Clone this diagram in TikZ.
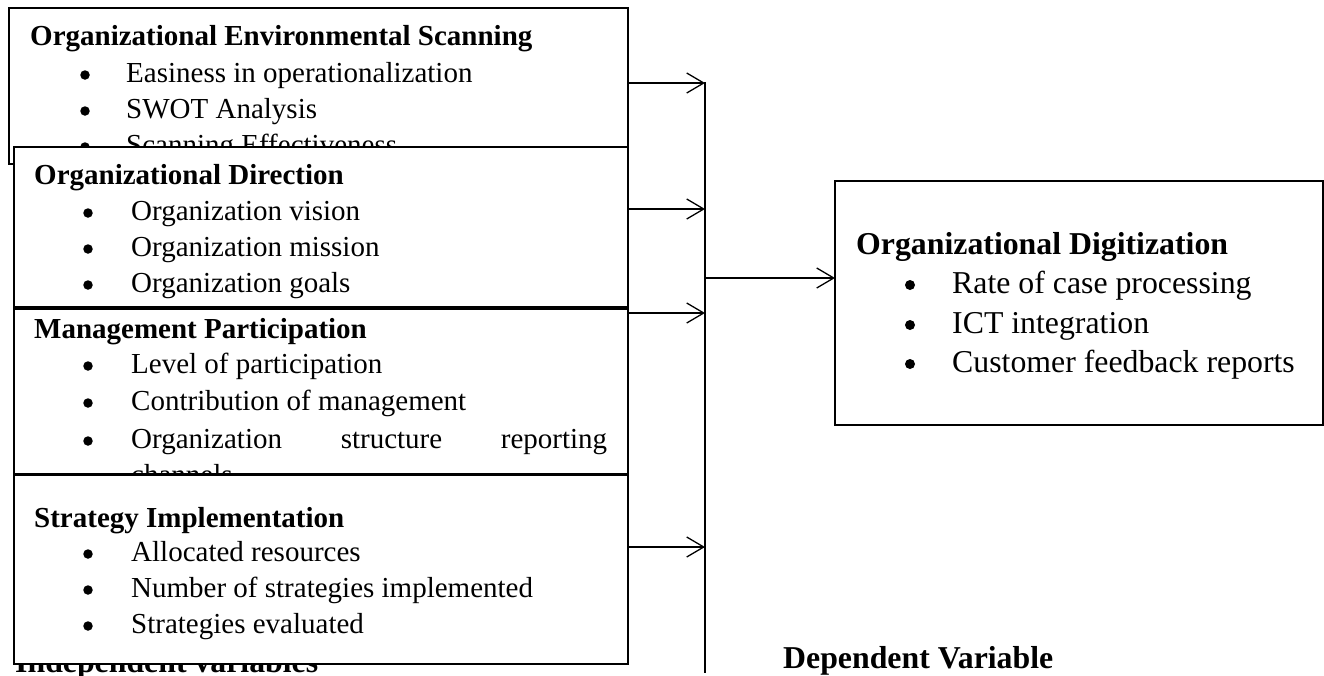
\documentclass[tikz,border=0pt]{standalone}
\usepackage{fontspec}
\setmainfont{Liberation Serif}
\usetikzlibrary{arrows.meta}
\newcommand{\lfont}{\fontsize{29}{35}\selectfont}
\newcommand{\rfont}{\fontsize{31.8}{38}\selectfont}
\tikzset{
  box/.style={draw=black, line width=1.6pt, fill=white, inner sep=0pt, outer sep=0pt, anchor=north west},
  hd/.style={anchor=base west, inner sep=0pt, font=\lfont\bfseries},
  itm/.style={anchor=base west, inner sep=0pt, font=\lfont},
  bul/.style={circle, fill=black, inner sep=0pt, minimum size=9.5pt},
  rhd/.style={anchor=base west, inner sep=0pt, font=\rfont\bfseries},
  ritm/.style={anchor=base west, inner sep=0pt, font=\rfont},
  rbul/.style={circle, fill=black, inner sep=0pt, minimum size=10pt},
  lbl/.style={anchor=base west, inner sep=0pt, font=\rfont\bfseries},
  conn/.style={draw=black, line width=1.3pt},
  arr/.style={conn, -{Straight Barb[length=17pt, width=20pt]}}
}
\begin{document}
\begin{tikzpicture}[x=1pt, y=-1pt]
\useasboundingbox (0,0) rectangle (1324,675);

% Box 1
\node[box, minimum width=619pt, minimum height=156pt] (b1) at (9,8) {};
\node[hd] (h1) at (30,45) {Organizational Environmental Scanning};
\node[bul] (p11) at (85,75) {};
\node[itm] (t11) at (126,82) {Easiness in operationalization};
\node[bul] (p12) at (85,111) {};
\node[itm] (t12) at (126,118) {SWOT Analysis};
\node[bul] (p13) at (85,147) {};
\node[itm] (t13) at (126,154) {Scanning Effectiveness};

% Box 2
\node[box, minimum width=614pt, minimum height=160pt] (b2) at (14,147) {};
\node[hd] (h2) at (34,184) {Organizational Direction};
\node[bul] (p21) at (88,213) {};
\node[itm] (t21) at (131,220) {Organization vision};
\node[bul] (p22) at (88,249) {};
\node[itm] (t22) at (131,256) {Organization mission};
\node[bul] (p23) at (88,285) {};
\node[itm] (t23) at (131,292) {Organization goals};

% Box 3
\node[box, minimum width=614pt, minimum height=165pt] (b3) at (14,309) {};
\node[hd] (h3) at (34,338) {Management Participation};
\node[bul] (p31) at (88,366) {};
\node[itm] (t31) at (131,373) {Level of participation};
\node[bul] (p32) at (88,403) {};
\node[itm] (t32) at (131,410) {Contribution of management};
\node[bul] (p33) at (88,441) {};
\node[itm] (t33) at (131,448) {\hbox to 476pt{Organization\hfill structure\hfill reporting}};
\node[itm] (t34) at (131,484) {channels};

% label under box 4
\node[lbl] (indep) at (15,672) {Independent variables};

% Box 4
\node[box, minimum width=614pt, minimum height=189pt] (b4) at (14,475) {};
\node[hd] (h4) at (34,527) {Strategy Implementation};
\node[bul] (p41) at (88,554) {};
\node[itm] (t41) at (131,561) {Allocated resources};
\node[bul] (p42) at (88,590) {};
\node[itm] (t42) at (131,597) {Number of strategies implemented};
\node[bul] (p43) at (88,626) {};
\node[itm] (t43) at (131,633) {Strategies evaluated};

% Right box
\node[box, minimum width=488pt, minimum height=244pt] (rb) at (835,181) {};
\node[rhd] (rh) at (856,254) {Organizational Digitization};
\node[rbul] (rp1) at (910,285) {};
\node[ritm] (rt1) at (952,293) {Rate of case processing};
\node[rbul] (rp2) at (910,325) {};
\node[ritm] (rt2) at (952,333) {ICT integration};
\node[rbul] (rp3) at (910,364) {};
\node[ritm] (rt3) at (952,372) {Customer feedback reports};

\node[lbl] (dep) at (783,668) {Dependent Variable};

% Connectors
\coordinate (vtop) at (705,82);
\coordinate (vbot) at (705,673);
\coordinate (v1) at (705,83);
\coordinate (v2) at (705,209);
\coordinate (v3) at (705,313);
\coordinate (v4) at (705,547);
\coordinate (vm) at (705,278);
\draw[conn] (vtop) -- (vbot);
\draw[arr] (b1.east |- v1) -- (v1);
\draw[arr] (b2.east |- v2) -- (v2);
\draw[arr] (b3.east |- v3) -- (v3);
\draw[arr] (b4.east |- v4) -- (v4);
\draw[arr] (vm) -- (rb.west |- vm);
\end{tikzpicture}
\end{document}
